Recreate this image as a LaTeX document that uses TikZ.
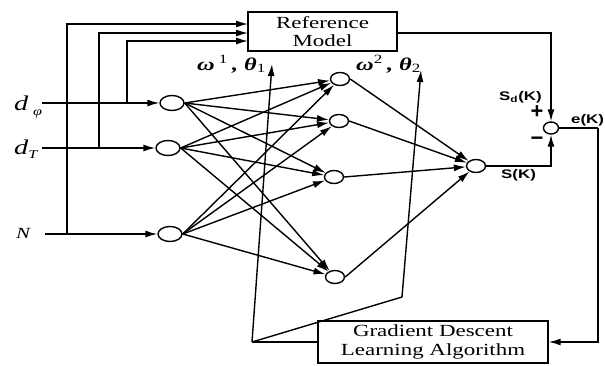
\documentclass[tikz,border=0pt]{standalone}
\usepackage{fontspec}
\setmainfont{Liberation Serif}
\newfontfamily\lsans{Liberation Sans}
\usetikzlibrary{shapes.geometric,arrows.meta}
\newcommand\sx[1]{\scalebox{1.35}[1]{#1}}
\tikzset{
  arr/.style={-{Latex[length=12pt,width=7pt]}, line width=1.4pt},
  ln/.style={line width=1.4pt},
  neuin/.style={ellipse, draw, line width=1.4pt, minimum width=24pt, minimum height=15pt, inner sep=0pt},
  neu/.style={ellipse, draw, line width=1.4pt, minimum width=19pt, minimum height=13pt, inner sep=0pt},
  sumc/.style={ellipse, draw, line width=1.4pt, minimum width=15pt, minimum height=12pt, inner sep=0pt},
  blk/.style={draw, line width=1.4pt, inner sep=0pt, align=center, font=\fontsize{17}{18.5}\selectfont},
  sanslab/.style={font=\lsans\bfseries\fontsize{12.5}{13}\selectfont, inner sep=0pt},
  pm/.style={font=\lsans\bfseries\fontsize{22}{22}\selectfont, inner sep=0pt},
}
\begin{document}
\begin{tikzpicture}[x=1pt,y=-1pt]
\useasboundingbox (0,0) rectangle (605,365);
% blocks
\node[blk, minimum width=149pt, minimum height=39pt] (ref) at (322.5,31.5) {\sx{Reference}\\\sx{Model}};
\node[blk, minimum width=230pt, minimum height=42pt] (grad) at (433,342) {\sx{Gradient Descent}\\\sx{Learning Algorithm}};
% neurons
\node[neuin] (i1) at (172,103) {};
\node[neuin] (i2) at (168,148) {};
\node[neuin] (i3) at (170,234) {};
\node[neu] (h1) at (340,79) {};
\node[neu] (h2) at (339,121) {};
\node[neu] (h3) at (334,177) {};
\node[neu] (h4) at (335,277) {};
\node[neu] (o) at (476,166) {};
\node[sumc] (s) at (551,128) {};
% coordinates
\coordinate (sp) at (42,103);
\coordinate (sT) at (42,148);
\coordinate (sN) at (45,234);
\coordinate (jP) at (127,103);
\coordinate (jT) at (99,148);
\coordinate (jN) at (67,234);
\coordinate (r1) at (248,24);
\coordinate (r2) at (248,33);
\coordinate (r3) at (248,41);
\coordinate (ro) at (397,33);
\coordinate (ec) at (598,128);
\coordinate (apex) at (252,342);
\coordinate (bend) at (402,297);
\coordinate (w1) at (272,64);
\coordinate (w2) at (421,70);
% input lines
\draw[arr] (sp) -- (i1);
\draw[arr] (sT) -- (i2);
\draw[arr] (sN) -- (i3);
\draw[arr] (jN) |- (r1);
\draw[arr] (jT) |- (r2);
\draw[arr] (jP) |- (r3);
% input to hidden
\foreach \i in {i1,i2,i3}{
  \foreach \h in {h1,h2,h3,h4}{
    \draw[arr] (\i.east) -- (\h);
  }
}
% hidden to output
\foreach \h in {h1,h2,h3,h4}{
  \draw[arr] (\h.east) -- (o);
}
% summing junction
\draw[arr] (ro) -| (s.north);
\draw[arr] (o.east) -| (s.south);
\draw[ln] (s.east) -- (ec);
\draw[arr] (ec) |- (grad.east);
% learning feedback
\draw[ln] (grad.west) -- (apex);
\draw[arr] (apex) -- (w1);
\draw[arr] (apex) -- (bend) -- (w2);
% labels
\node[anchor=base west, inner sep=0pt] (lp) at (14,110) {\sx{\fontsize{21}{21}\selectfont\itshape d\,\raisebox{-5pt}{\fontsize{12}{12}\selectfont φ}}};
\node[anchor=base west, inner sep=0pt] (lT) at (14,154) {\sx{\fontsize{21}{21}\selectfont\itshape d\raisebox{-4pt}{\fontsize{12}{12}\selectfont T}}};
\node[anchor=base west, inner sep=0pt] (lN) at (16,238) {\sx{\fontsize{15.5}{15.5}\selectfont\itshape N}};
\node[anchor=base west, inner sep=0pt] (lw1) at (197,70) {\sx{\fontsize{18}{18}\selectfont\bfseries\itshape ω\,\textsuperscript{\mdseries\upshape 1}\,, θ\textsubscript{\mdseries\upshape 1}}};
\node[anchor=base west, inner sep=0pt] (lw2) at (356,70) {\sx{\fontsize{18}{18}\selectfont\bfseries\itshape ω\textsuperscript{\mdseries\upshape 2}\,, θ\textsubscript{\mdseries\upshape 2}}};
\node[sanslab, anchor=base west] (lsd) at (499,100) {\sx{S\textsubscript{d}(K)}};
\node[sanslab, anchor=base west] (le) at (571,123) {\sx{e(K)}};
\node[sanslab, anchor=base west] (ls) at (501,178) {\sx{S(K)}};
\node[pm] (lplus) at (537,112) {+};
\node[pm] (lminus) at (537,141) {−};
\end{tikzpicture}
\end{document}
